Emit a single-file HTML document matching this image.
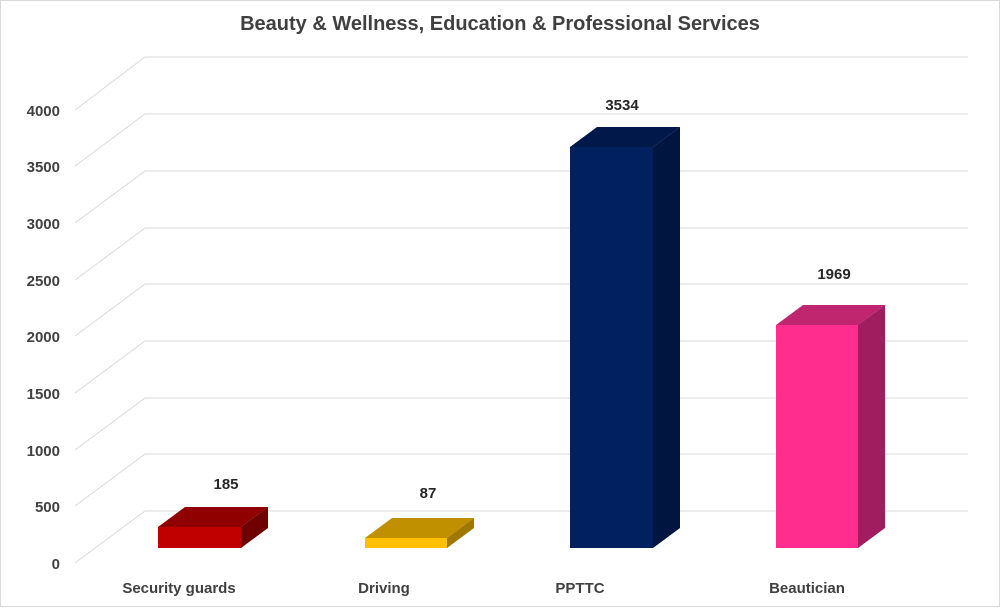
<!DOCTYPE html>
<html><head><style>body{margin:0;background:#fff}</style></head><body>
<svg width="1000" height="607" viewBox="0 0 1000 607" xmlns="http://www.w3.org/2000/svg" font-family="Liberation Sans, sans-serif">
<rect x="0.5" y="0.5" width="999" height="606" fill="#fff" stroke="#d9d9d9"/>
<text x="500" y="30" text-anchor="middle" font-size="20" font-weight="bold" fill="#404040">Beauty &amp; Wellness, Education &amp; Professional Services</text>
<g stroke="#d9d9d9" stroke-width="1" fill="none">
<polyline points="75,563 145,511 968,511"/>
<polyline points="75,506 145,454 968,454"/>
<polyline points="75,450 145,398 968,398"/>
<polyline points="75,393 145,341 968,341"/>
<polyline points="75,336 145,284 968,284"/>
<polyline points="75,280 145,228 968,228"/>
<polyline points="75,223 145,171 968,171"/>
<polyline points="75,166 145,114 968,114"/>
<polyline points="75,110 145,57 968,57"/>
</g>
<g font-size="15" font-weight="bold" fill="#404040" text-anchor="end">
<text x="60" y="569">0</text><text x="60" y="512">500</text><text x="60" y="456">1000</text>
<text x="60" y="399">1500</text><text x="60" y="342">2000</text><text x="60" y="286">2500</text>
<text x="60" y="229">3000</text><text x="60" y="172">3500</text><text x="60" y="116">4000</text>
</g>
<g>
<polygon points="158,527 185,507 268,507 241,527" fill="#900000"/>
<polygon points="241,527 268,507 268,528 241,548" fill="#700000"/>
<rect x="158" y="527" width="83" height="21" fill="#c00000"/>

<polygon points="365,538 392,518 474,518 447,538" fill="#c09000"/>
<polygon points="447,538 474,518 474,528 447,548" fill="#a07800"/>
<rect x="365" y="538" width="82" height="10" fill="#ffc000"/>

<polygon points="570,147 597,127 680,127 653,147" fill="#00184a"/>
<polygon points="653,147 680,127 680,528 653,548" fill="#001540"/>
<rect x="570" y="147" width="83" height="401" fill="#002060"/>

<polygon points="776,325 803,305 885,305 858,325" fill="#c0266f"/>
<polygon points="858,325 885,305 885,528 858,548" fill="#a01e5f"/>
<rect x="776" y="325" width="82" height="223" fill="#ff2d8e"/>
</g>
<g font-size="15" font-weight="bold" fill="#262626" text-anchor="middle">
<text x="226" y="489">185</text><text x="428" y="498">87</text>
<text x="622" y="110">3534</text><text x="834" y="279">1969</text>
</g>
<g font-size="15" font-weight="bold" fill="#404040" text-anchor="middle">
<text x="179" y="593">Security guards</text><text x="384" y="593">Driving</text>
<text x="580" y="593">PPTTC</text><text x="807" y="593">Beautician</text>
</g>
</svg>
</body></html>
